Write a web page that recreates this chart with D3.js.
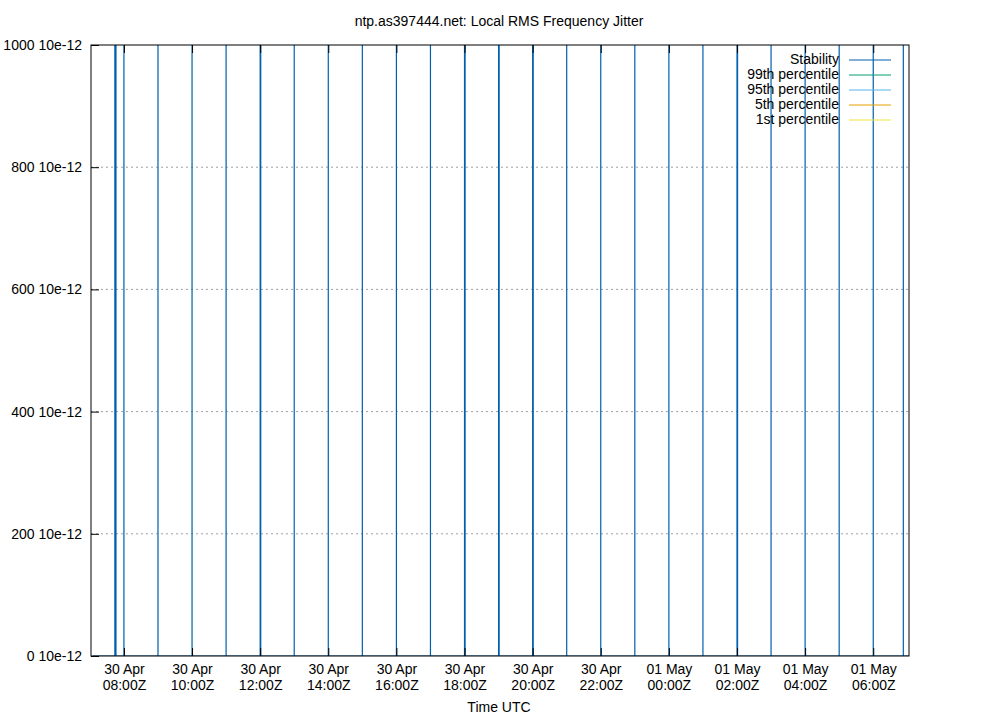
<!DOCTYPE html>
<html>
<head>
<meta charset="utf-8">
<script src="https://cdn.jsdelivr.net/npm/d3@7"></script>
<style>
body { margin: 0; background: #fff; }
text { font-family: "Liberation Sans", Arial, sans-serif; font-size: 14px; fill: #000; }
</style>
</head>
<body>
<svg id="chart" width="1000" height="720"></svg>
<script>
// stability samples, value in units of 10e-12 (1000000 = far off the top)
var times = [
	'2024-04-30T07:05', '2024-04-30T07:44', '2024-04-30T07:44', '2024-04-30T07:46',
	'2024-04-30T08:00', '2024-04-30T08:00', '2024-04-30T08:00',
	'2024-04-30T09:00', '2024-04-30T09:00', '2024-04-30T09:00',
	'2024-04-30T10:00', '2024-04-30T10:00', '2024-04-30T10:00',
	'2024-04-30T11:00', '2024-04-30T11:00', '2024-04-30T11:00',
	'2024-04-30T12:00', '2024-04-30T12:00', '2024-04-30T12:01',
	'2024-04-30T13:00', '2024-04-30T13:00', '2024-04-30T13:00',
	'2024-04-30T14:00', '2024-04-30T14:00', '2024-04-30T14:00',
	'2024-04-30T15:00', '2024-04-30T15:00', '2024-04-30T15:00',
	'2024-04-30T16:00', '2024-04-30T16:00', '2024-04-30T16:00',
	'2024-04-30T17:00', '2024-04-30T17:00', '2024-04-30T17:00',
	'2024-04-30T18:00', '2024-04-30T18:00', '2024-04-30T18:01',
	'2024-04-30T19:00', '2024-04-30T19:00', '2024-04-30T19:01',
	'2024-04-30T20:00', '2024-04-30T20:00', '2024-04-30T20:01',
	'2024-04-30T21:00', '2024-04-30T21:00', '2024-04-30T21:00',
	'2024-04-30T22:00', '2024-04-30T22:00', '2024-04-30T22:00',
	'2024-04-30T23:00', '2024-04-30T23:00', '2024-04-30T23:00',
	'2024-05-01T00:00', '2024-05-01T00:00', '2024-05-01T00:00',
	'2024-05-01T01:00', '2024-05-01T01:00', '2024-05-01T01:00',
	'2024-05-01T02:00', '2024-05-01T02:00', '2024-05-01T02:01', '2024-05-01T02:01',
	'2024-05-01T03:00', '2024-05-01T03:00', '2024-05-01T03:00',
	'2024-05-01T04:00', '2024-05-01T04:00', '2024-05-01T04:00',
	'2024-05-01T05:00', '2024-05-01T05:00', '2024-05-01T05:00',
	'2024-05-01T06:00', '2024-05-01T06:00', '2024-05-01T06:00',
	'2024-05-01T06:53', '2024-05-01T06:53', '2024-05-01T06:53', '2024-05-01T07:03'
];
var values = [
	0, 0, 1000000, 0,
	0, 1000000, 0,
	0, 1000000, 0,
	0, 1000000, 0,
	0, 1000000, 0,
	0, 1000000, 0,
	0, 1000000, 0,
	0, 1000000, 0,
	0, 1000000, 0,
	0, 1000000, 0,
	0, 1000000, 0,
	0, 1000000, 0,
	0, 1000000, 0,
	0, 1000000, 0,
	0, 1000000, 0,
	0, 1000000, 0,
	0, 1000000, 0,
	0, 1000000, 0,
	0, 1000000, 0,
	0, 1000000, 497, 0,
	0, 1000000, 0,
	0, 1000000, 0,
	0, 1000000, 0,
	0, 1000000, 0,
	0, 1000000, 0, 0
];
var yTicks = [0, 200, 400, 600, 800, 1000];
var xDomain = ['2024-04-30T07:02', '2024-05-01T07:03'];
var legendNames = ['Stability', '99th percentile', '95th percentile', '5th percentile', '1st percentile'];
var legendColors = ['#0060ad', '#009e73', '#56b4e9', '#e69f00', '#f0e442'];

var parse = d3.utcParse('%Y-%m-%dT%H:%M');
var data = times.map(function(t, i) {
	return { date: parse(t), value: values[i] };
});

var plotLeft = 91, plotRight = 909, plotTop = 45, plotBottom = 656;
var svg = d3.select('#chart');

var xScale = d3.scaleUtc()
	.domain(xDomain.map(parse))
	.range([plotLeft, plotRight]);
var yScale = d3.scaleLinear()
	.domain([0, 1000])
	.range([plotBottom, plotTop]);

svg.append('defs').append('clipPath').attr('id', 'clip')
	.append('rect')
	.attr('x', plotLeft).attr('y', plotTop)
	.attr('width', plotRight - plotLeft).attr('height', plotBottom - plotTop);

// grid
svg.append('g')
	.selectAll('line')
	.data(yTicks.slice(1, -1))
	.enter().append('line')
	.attr('x1', plotLeft).attr('x2', plotRight)
	.attr('y1', function(d) { return yScale(d); })
	.attr('y2', function(d) { return yScale(d); })
	.attr('stroke', '#a0a0a0')
	.attr('stroke-dasharray', '2,3');

var line = d3.line()
	.x(function(d) { return xScale(d.date); })
	.y(function(d) { return yScale(d.value); });

svg.append('path')
	.datum(data)
	.attr('clip-path', 'url(#clip)')
	.attr('fill', 'none')
	.attr('stroke', legendColors[0])
	.attr('stroke-width', 1.2)
	.attr('d', line);

// axes
var xTicks = d3.utcHour.every(2).range(parse('2024-04-30T08:00'), parse('2024-05-01T07:00'));
var fmtDay = d3.utcFormat('%d %b'), fmtTime = d3.utcFormat('%H:%MZ');

var yAxis = d3.axisLeft(yScale)
	.tickValues(yTicks)
	.tickSize(-8)
	.tickFormat(function(d) { return d + ' 10e-12'; });
svg.append('g')
	.attr('transform', 'translate(' + plotLeft + ',0)')
	.call(yAxis)
	.call(function(g) {
		g.select('.domain').remove();
		g.selectAll('.tick line').attr('stroke', '#000');
		g.selectAll('.tick text').attr('x', -9).attr('font-size', 14).attr('font-family', 'Liberation Sans, Arial, sans-serif');
	});

var xAxis = d3.axisBottom(xScale)
	.tickValues(xTicks)
	.tickSize(-8)
	.tickFormat(function() { return ''; });
var gx = svg.append('g')
	.attr('transform', 'translate(0,' + plotBottom + ')')
	.call(xAxis);
gx.select('.domain').remove();
gx.selectAll('.tick line').attr('stroke', '#000');
gx.selectAll('.tick').append('text')
	.attr('text-anchor', 'middle')
	.attr('y', 18)
	.text(function(d) { return fmtDay(d); });
gx.selectAll('.tick').append('text')
	.attr('text-anchor', 'middle')
	.attr('y', 34)
	.text(function(d) { return fmtTime(d); });

svg.append('g')
	.call(d3.axisTop(xScale).tickValues(xTicks).tickSize(-8).tickFormat(''))
	.attr('transform', 'translate(0,' + plotTop + ')')
	.call(function(g) { g.select('.domain').remove(); g.selectAll('line').attr('stroke', '#000'); });

svg.append('rect')
	.attr('x', plotLeft).attr('y', plotTop)
	.attr('width', plotRight - plotLeft).attr('height', plotBottom - plotTop)
	.attr('fill', 'none').attr('stroke', '#000');

// titles
svg.append('text')
	.attr('x', 499).attr('y', 26)
	.attr('text-anchor', 'middle')
	.text('ntp.as397444.net: Local RMS Frequency Jitter');
svg.append('text')
	.attr('x', 499).attr('y', 712)
	.attr('text-anchor', 'middle')
	.text('Time UTC');

// legend
var legend = svg.append('g')
	.selectAll('g')
	.data(legendNames)
	.enter().append('g')
	.attr('transform', function(d, i) { return 'translate(0,' + (59 + i * 15) + ')'; });
legend.append('text')
	.attr('x', 839).attr('y', 5)
	.attr('text-anchor', 'end')
	.text(function(d) { return d; });
legend.append('line')
	.attr('x1', 849).attr('x2', 891)
	.attr('y1', 1).attr('y2', 1)
	.attr('stroke', function(d, i) { return legendColors[i]; });
</script>
</body>
</html>
